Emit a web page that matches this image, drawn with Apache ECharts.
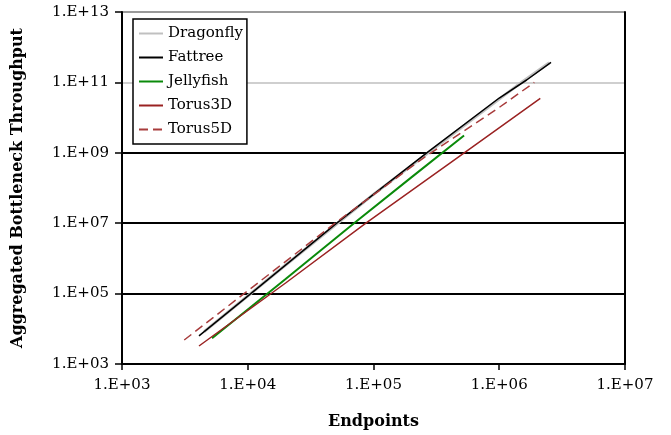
<!DOCTYPE html>
<html>
<head>
<meta charset="UTF-8" />
<title>Aggregated Bottleneck Throughput</title>
<script src="https://cdn.jsdelivr.net/npm/echarts@6/dist/echarts.min.js"></script>
<style type="text/css">
body{
	margin: 0px;
	background: #fff;
}
#chart{
	width: 671px;
	height: 435px;
}
</style>
</head>
<body>
<div id="chart"></div>
<script type="text/javascript">

// endpoints / throughput pairs
var dragonflyX = [4500, 20000, 100000, 500000, 1500000, 2500000];
var dragonflyY = [8.3e3, 6.5e5, 6.6e7, 5.2e9, 1.0e11, 3.6e11];

var fattreeX = [4096, 10000, 51000, 100000, 265000, 1000000, 1650000, 2580000];
var fattreeY = [6.3e3, 8.5e4, 1.0e7, 6.6e7, 1.0e9, 3.6e10, 1.17e11, 3.7e11];

var jellyfishX = [5200, 20000, 70000, 200000, 525000];
var jellyfishY = [5.4e3, 2.6e5, 1.0e7, 2.0e8, 3.1e9];

var torus3dX = [4096, 20000, 87000, 400000, 2120000];
var torus3dY = [3.25e3, 2.0e5, 1.0e7, 4.9e8, 3.5e10];

var torus5dX = [3125, 49400, 257000, 1010000, 1900000];
var torus5dY = [4.8e3, 1.0e7, 7.7e8, 2.0e10, 1.0e11];

var xTicks = [1e3, 1e4, 1e5, 1e6, 1e7];
var yTicks = [1e3, 1e5, 1e7, 1e9, 1e11, 1e13];

var font = '"DejaVu Serif", "Liberation Serif", serif';

function pairs(xs, ys){
	var out = [];
	for(var i = 0; i < xs.length; i++){
		out.push([xs[i], ys[i]]);
	}
	return out;
}

function sciLabel(v){
	var e = Math.round(Math.log10(v));
	return '1.E+' + (e < 10 ? '0' : '') + e;
}

function lineSeries(name, xs, ys, color, width, type){
	return {
		name: name,
		type: 'line',
		data: pairs(xs, ys),
		symbol: 'none',
		smooth: false,
		lineStyle: { color: color, width: width, type: type || 'solid' },
		itemStyle: { color: color }
	};
}

var myChart = echarts.init(document.getElementById('chart'));
myChart.setOption({
	animation: false,
	backgroundColor: '#fff',
	grid: { left: 122, right: 46, top: 12, bottom: 71 },
	legend: {
		orient: 'vertical',
		left: 133,
		top: 19,
		padding: [7, 4, 7, 5],
		itemGap: 9,
		itemWidth: 24,
		itemHeight: 14,
		borderColor: '#000',
		borderWidth: 1.5,
		backgroundColor: '#fff',
		itemStyle: { opacity: 0 },
		textStyle: { fontFamily: font, fontSize: 15, color: '#000' },
		data: ['Dragonfly', 'Fattree', 'Jellyfish', 'Torus3D', 'Torus5D']
	},
	xAxis: {
		type: 'log',
		logBase: 10,
		min: xTicks[0],
		max: xTicks[xTicks.length - 1],
		name: 'Endpoints',
		nameLocation: 'middle',
		nameGap: 50,
		nameTextStyle: { fontFamily: font, fontSize: 16, fontWeight: 'bold', color: '#000' },
		axisLine: { lineStyle: { color: '#000', width: 2 } },
		axisTick: { show: true, inside: false, length: 6, lineStyle: { color: '#000', width: 1.5 } },
		minorTick: { show: false },
		splitLine: { show: false },
		axisLabel: { margin: 14, fontFamily: font, fontSize: 15, color: '#000', formatter: sciLabel }
	},
	yAxis: [{
		type: 'log',
		logBase: 10,
		min: yTicks[0],
		max: yTicks[yTicks.length - 1],
		interval: 2,
		name: 'Aggregated Bottleneck Throughput',
		nameLocation: 'middle',
		nameGap: 96,
		nameTextStyle: { fontFamily: font, fontSize: 16, fontWeight: 'bold', color: '#000' },
		axisLine: { show: true, lineStyle: { color: '#000', width: 2 } },
		axisTick: { show: true, inside: false, length: 7, lineStyle: { color: '#000', width: 1.5 } },
		splitLine: {
			show: true,
			lineStyle: { color: ['#000', '#000', '#000', '#000', '#cfcfcf', '#9a9a9a'], width: 2 }
		},
		axisLabel: { margin: 13, fontFamily: font, fontSize: 15, color: '#000', formatter: sciLabel }
	}, {
		type: 'log',
		position: 'right',
		min: yTicks[0],
		max: yTicks[yTicks.length - 1],
		axisLine: { show: true, lineStyle: { color: '#000', width: 2 } },
		axisTick: { show: false },
		axisLabel: { show: false },
		splitLine: { show: false }
	}],
	series: [
		lineSeries('Dragonfly', dragonflyX, dragonflyY, '#c0c0c0', 3),
		lineSeries('Fattree', fattreeX, fattreeY, '#000', 1.5),
		lineSeries('Jellyfish', jellyfishX, jellyfishY, '#0a8a0a', 2),
		lineSeries('Torus3D', torus3dX, torus3dY, '#9a2222', 1.5),
		lineSeries('Torus5D', torus5dX, torus5dY, '#a83c3c', 1.5, [9, 5])
	]
});

</script>
</body>
</html>
